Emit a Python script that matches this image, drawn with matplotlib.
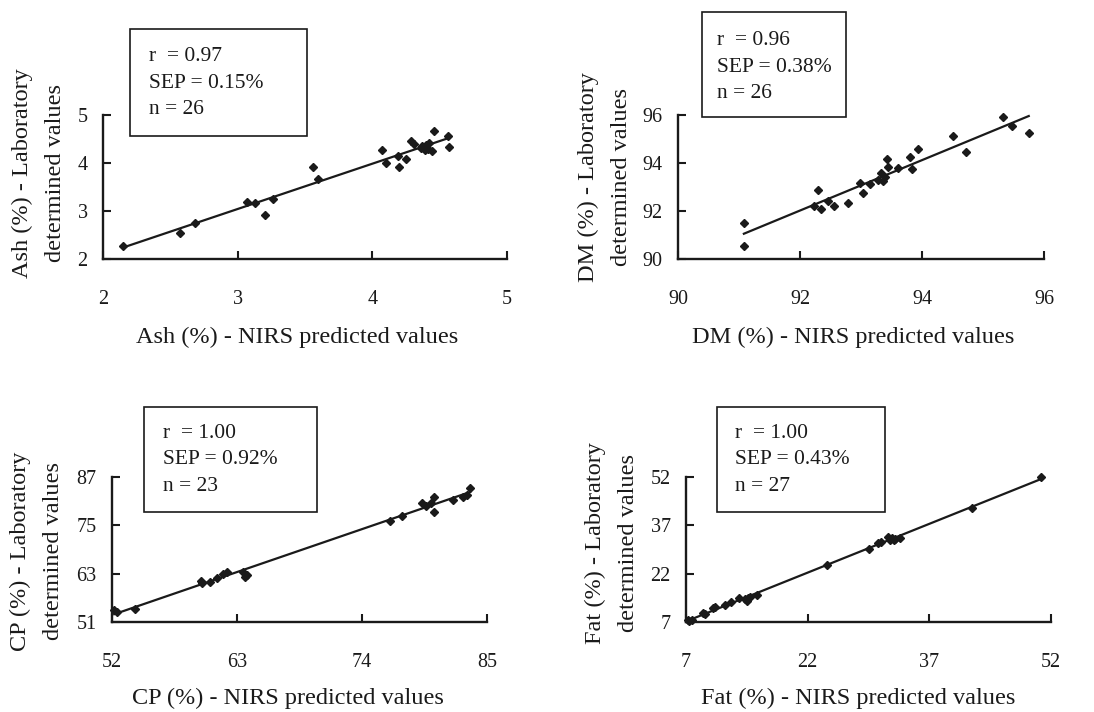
import numpy as np
import matplotlib
matplotlib.use("Agg")
import matplotlib.pyplot as plt
from matplotlib.patches import Rectangle

plt.rcParams["font.family"] = ["Liberation Serif", "DejaVu Serif"]
INK = "#1a1a1a"

# ---- data ----
ash_nirs = [2.15, 2.57, 2.68, 3.07, 3.13, 3.20, 3.26, 3.56, 3.60, 4.07, 4.10, 4.19, 4.20,
            4.25, 4.29, 4.31, 4.36, 4.37, 4.39, 4.40, 4.41, 4.42, 4.44, 4.46, 4.56, 4.57]
ash_lab = [2.28, 2.55, 2.74, 3.19, 3.17, 2.92, 3.26, 3.91, 3.67, 4.28, 4.00, 4.14, 3.91,
           4.08, 4.45, 4.40, 4.32, 4.35, 4.28, 4.38, 4.30, 4.42, 4.24, 4.66, 4.57, 4.33]

dm_nirs = [91.08, 91.09, 92.23, 92.30, 92.34, 92.46, 92.56, 92.79, 92.99, 93.03, 93.15, 93.28,
           93.33, 93.36, 93.39, 93.42, 93.44, 93.61, 93.80, 93.83, 93.93, 94.51, 94.72, 95.32,
           95.48, 95.75]
dm_lab = [91.50, 90.55, 92.22, 92.88, 92.08, 92.42, 92.22, 92.33, 93.16, 92.74, 93.13, 93.30,
          93.57, 93.23, 93.43, 94.16, 93.85, 93.78, 94.27, 93.74, 94.58, 95.12, 94.46, 95.93,
          95.54, 95.26]

cp_nirs = [52.2, 52.4, 54.0, 59.8, 59.9, 60.6, 61.2, 61.8, 62.1, 63.5, 63.7, 63.9, 76.5, 77.5,
           79.3, 79.6, 80.1, 80.3, 80.3, 82.0, 82.9, 83.2, 83.5]
cp_lab = [53.9, 53.4, 54.2, 61.1, 60.7, 60.9, 61.8, 62.8, 63.4, 63.3, 62.1, 62.6, 76.0, 77.4,
          80.5, 79.8, 80.5, 82.0, 78.4, 81.2, 82.0, 82.6, 84.2]

fat_nirs = [7.3, 7.4, 7.7, 9.1, 9.4, 10.3, 10.6, 11.8, 12.6, 13.5, 14.3, 14.5, 14.6, 14.9, 15.7,
            24.4, 29.6, 30.7, 31.0, 31.9, 32.2, 32.4, 32.6, 32.8, 33.4, 42.3, 50.8]
fat_lab = [7.5, 7.2, 7.7, 9.9, 9.6, 11.2, 11.7, 12.2, 13.2, 14.3, 14.0, 13.5, 14.6, 14.8, 15.5,
           24.7, 29.7, 31.4, 31.9, 33.5, 32.5, 33.0, 32.5, 32.8, 33.2, 42.3, 52.0]

names = ["Ash", "DM", "CP", "Fat"]
ticks = [[2, 3, 4, 5], [90, 92, 94, 96], [52, 63, 74, 85], [7, 22, 37, 52]]
yticks = [[2, 3, 4, 5], [90, 92, 94, 96], [51, 63, 75, 87], [7, 22, 37, 52]]
stats = [("0.97", "0.15", 26), ("0.96", "0.38", 26), ("1.00", "0.92", 23), ("1.00", "0.43", 27)]
series = [(ash_nirs, ash_lab), (dm_nirs, dm_lab), (cp_nirs, cp_lab), (fat_nirs, fat_lab)]

# ---- layout in reference pixels (x from left, y from top) ----
W, H = 1094, 712
axes_px = [(103, 115, 507, 259), (678, 115, 1044, 259),
           (112, 477, 487, 622), (686, 477, 1051, 622)]
box_px = [(130, 29, 307, 136), (702, 12, 846, 117),
          (144, 407, 317, 512), (717, 407, 885, 512)]
stat_px = [(149, 83), (717, 67), (163, 460), (735, 460)]
ylab_px = [(39, 173), (605, 177), (37, 551), (612, 543)]
xlab_px = [(297, 337), (853, 337), (288, 698), (858, 698)]


def fx(x):
    return x / W


def fy(y):
    return 1 - y / H


fig = plt.figure(figsize=(W / 100, H / 100), dpi=100)

for i in range(4):
    l, t, r, b = axes_px[i]
    ax = fig.add_axes([fx(l), fy(b), (r - l) / W, (b - t) / H])
    x, y = np.array(series[i][0]), np.array(series[i][1])
    ax.plot(x, y, "D", color=INK, ms=3.8, mec=INK, clip_on=False, zorder=3)
    k, c = np.polyfit(x, y, 1)
    xs = np.array([x.min(), x.max()])
    ax.plot(xs, k * xs + c, "-", color=INK, lw=1.6, clip_on=False)

    ax.set_xlim(ticks[i][0], ticks[i][-1])
    ax.set_ylim(yticks[i][0], yticks[i][-1])
    ax.set_xticks(ticks[i])
    ax.set_yticks(yticks[i])
    for s in ("top", "right"):
        ax.spines[s].set_visible(False)
    for s in ("left", "bottom"):
        ax.spines[s].set_linewidth(1.7)
        ax.spines[s].set_color(INK)
    ax.tick_params(direction="in", length=6, width=1.5, color=INK, labelcolor=INK,
                   labelsize=14.5)
    ax.tick_params(axis="x", pad=22)
    ax.tick_params(axis="y", pad=11)
    ax.patch.set_visible(False)

    nm = names[i]
    bx0, by0, bx1, by1 = box_px[i]
    fig.add_artist(Rectangle((fx(bx0), fy(by1)), (bx1 - bx0) / W, (by1 - by0) / H,
                             transform=fig.transFigure, fill=False, ec=INK, lw=1.2))
    rr, sep, n = stats[i]
    fig.text(fx(stat_px[i][0]), fy(stat_px[i][1]),
             f"r  = {rr}\nSEP = {sep}%\nn = {n}",
             ha="left", va="center", fontsize=15.5, linespacing=1.55, color=INK)
    fig.text(fx(ylab_px[i][0]), fy(ylab_px[i][1]),
             f"{nm} (%) - Laboratory\ndetermined values",
             rotation=90, ha="center", va="center", fontsize=17.5, linespacing=1.7,
             color=INK)
    fig.text(fx(xlab_px[i][0]), fy(xlab_px[i][1]), f"{nm} (%) - NIRS predicted values",
             ha="center", va="center", fontsize=17.5, color=INK)

fig.savefig("out.png", dpi=100)
